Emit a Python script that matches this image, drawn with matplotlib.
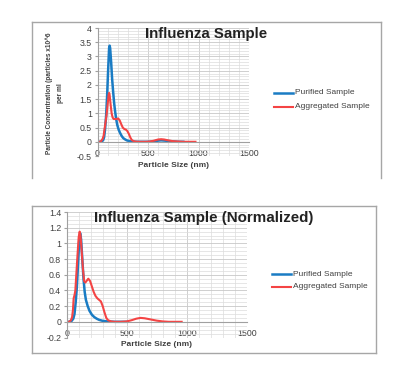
import matplotlib.pyplot as plt
from matplotlib.lines import Line2D
from matplotlib.ticker import MultipleLocator

# Particle size (nm) and concentrations
pur_x = [0, 20, 40, 55, 65, 75, 85, 95, 105, 115, 120, 125, 135, 145, 155, 165, 175,
         185, 195, 210, 225, 240, 255, 270, 290, 310, 330, 360, 400, 450, 500, 550,
         600, 630, 670, 720, 760, 800, 850]
pur_y = [0, 0, 0.01, 0.05, 0.15, 0.45, 0.9, 1.6, 2.5, 3.3, 3.38, 3.3, 2.8, 2.2, 1.75,
         1.35, 1.05, 0.8, 0.6, 0.42, 0.3, 0.2, 0.13, 0.09, 0.05, 0.03, 0.015, 0.005, 0,
         0, 0, 0.01, 0.04, 0.05, 0.04, 0.02, 0.01, 0, 0]

agg_x = [0, 20, 35, 50, 60, 70, 80, 90, 100, 110, 115, 120, 130, 140, 150, 160, 175,
         190, 205, 220, 235, 250, 265, 280, 295, 310, 325, 340, 360, 380, 420, 480,
         520, 560, 600, 630, 660, 700, 750, 800, 850, 900, 970]
agg_y = [0, 0, 0.02, 0.1, 0.2, 0.45, 0.7, 0.95, 1.3, 1.65, 1.72, 1.65, 1.3, 1.0, 0.85,
         0.8, 0.8, 0.8, 0.82, 0.75, 0.62, 0.5, 0.45, 0.43, 0.38, 0.28, 0.15, 0.06,
         0.02, 0.005, 0, 0, 0.01, 0.04, 0.08, 0.09, 0.08, 0.05, 0.02, 0.01, 0, 0, 0]

# Normalized
npur_x = [0, 20, 40, 55, 65, 75, 85, 95, 105, 112, 120, 130, 140, 150, 160, 175, 190,
          210, 230, 250, 270, 300, 340, 400, 450, 500]
npur_y = [0, 0, 0.01, 0.04, 0.1, 0.25, 0.45, 0.75, 1.05, 1.13, 1.05, 0.8, 0.55, 0.38,
          0.28, 0.2, 0.14, 0.09, 0.06, 0.04, 0.025, 0.012, 0.005, 0, 0, 0]

nagg_x = [0, 20, 35, 45, 52, 58, 65, 72, 80, 90, 100, 108, 115, 125, 135, 145, 155,
          165, 180, 195, 210, 225, 240, 255, 270, 285, 300, 315, 330, 345, 370, 400,
          450, 500, 540, 580, 615, 650, 700, 750, 800, 850, 958]
nagg_y = [0, 0, 0.02, 0.06, 0.15, 0.3, 0.34, 0.4, 0.6, 0.85, 1.08, 1.15, 1.1, 0.9,
          0.68, 0.52, 0.5, 0.52, 0.55, 0.52, 0.45, 0.38, 0.33, 0.3, 0.28, 0.26, 0.2,
          0.12, 0.05, 0.02, 0.005, 0, 0, 0.005, 0.02, 0.04, 0.05, 0.045, 0.03, 0.015,
          0.005, 0, 0]

series_names = ['Purified Sample', 'Aggregated Sample']
blue = '#1a7cc4'
red = '#f44444'
txt = '#404040'
plt.rcParams['font.family'] = ['Liberation Sans', 'DejaVu Sans']

W, H = 400, 376
fig = plt.figure(figsize=(4, 3.76), dpi=100)


def fx(px):
    return px / W


def fy(py):
    return 1 - py / H


def border(x0, x1, y0, y1, bottom=True):
    c = '#a6a6a6'
    fig.add_artist(Line2D([fx(x0), fx(x0)], [fy(y0), fy(y1)], color=c, lw=1))
    fig.add_artist(Line2D([fx(x1), fx(x1)], [fy(y0), fy(y1)], color=c, lw=1))
    fig.add_artist(Line2D([fx(x0), fx(x1)], [fy(y0), fy(y0)], color=c, lw=1))
    if bottom:
        fig.add_artist(Line2D([fx(x0), fx(x1)], [fy(y1), fy(y1)], color=c, lw=1))


def panel(rect, ymin, ymax, ymaj, ymin_step, xs):
    ax = fig.add_axes(rect)
    (px, py), (ax_, ay) = xs
    ax.plot(px, py, color=blue, lw=1.8)
    ax.plot(ax_, ay, color=red, lw=1.5)
    ax.set_xlim(0, 1500)
    ax.set_ylim(ymin, ymax)
    ax.xaxis.set_major_locator(MultipleLocator(500))
    ax.xaxis.set_minor_locator(MultipleLocator(100))
    ax.yaxis.set_major_locator(MultipleLocator(ymaj))
    ax.yaxis.set_minor_locator(MultipleLocator(ymin_step))
    ax.grid(which='major', color='#c8c8c8', lw=0.6)
    ax.grid(which='minor', color='#dcdcdc', lw=0.5)
    ax.set_axisbelow(True)
    for s in ['top', 'right']:
        ax.spines[s].set_visible(False)
    ax.spines['left'].set_color('#a0a0a0')
    ax.spines['bottom'].set_color('#a0a0a0')
    ax.spines['bottom'].set_position(('data', 0))
    ax.tick_params(which='both', length=0, labelsize=6.3, labelcolor=txt, pad=2)
    ax.tick_params(axis='x', pad=5.5)
    ax.tick_params(axis='y', which='major', length=2, color='#a0a0a0')
    ax.set_yticks([v for v in ax.get_yticks() if ymin - 1e-9 <= v <= ymax + 1e-9])
    ax.set_yticklabels(['%g' % v for v in ax.get_yticks()])
    return ax


# Top chart
border(32, 381, 22, 178, bottom=False)
ax1 = panel([fx(97.5), fy(156), fx(249) - fx(97.5), fy(28) - fy(156)], -0.5, 4, 0.5, 0.1,
            ((pur_x, pur_y), (agg_x, agg_y)))
fig.text(fx(206), fy(34), 'Influenza Sample', ha='center', va='center',
         fontsize=10.8, fontweight='bold', color='#222222')
fig.text(fx(173), fy(166), 'Particle Size (nm)', ha='center', va='center',
         fontsize=6, fontweight='bold', color=txt)
fig.text(fx(55), fy(93), 'Particle Concentration (particles x10^6\nper ml',
         rotation=90, ha='center', va='center', multialignment='center',
         fontsize=4.7, fontweight='bold', color=txt, linespacing=1.8)

# Bottom chart
border(32, 376, 206, 353)
ax2 = panel([fx(66.7), fy(337.5), fx(246.7) - fx(66.7), fy(212) - fy(337.5)], -0.2, 1.4,
            0.2, 0.05, ((npur_x, npur_y), (nagg_x, nagg_y)))
fig.text(fx(204), fy(218), 'Influenza Sample (Normalized)', ha='center', va='center',
         fontsize=10.9, fontweight='bold', color='#222222')
fig.text(fx(156.7), fy(345), 'Particle Size (nm)', ha='center', va='center',
         fontsize=6, fontweight='bold', color=txt)

# Legends
for (x0, x1, ys) in [(274, 293, (93, 107)), (272, 291, (274, 287))]:
    for name, col, lw, yy in zip(series_names, [blue, red], [1.8, 1.5], ys):
        fig.add_artist(Line2D([fx(x0), fx(x1)], [fy(yy), fy(yy)], color=col, lw=lw))
        fig.text(fx(x1 + 2), fy(yy), name, ha='left', va='center', fontsize=6, color=txt)

fig.savefig('out.png', dpi=100, facecolor='white')
